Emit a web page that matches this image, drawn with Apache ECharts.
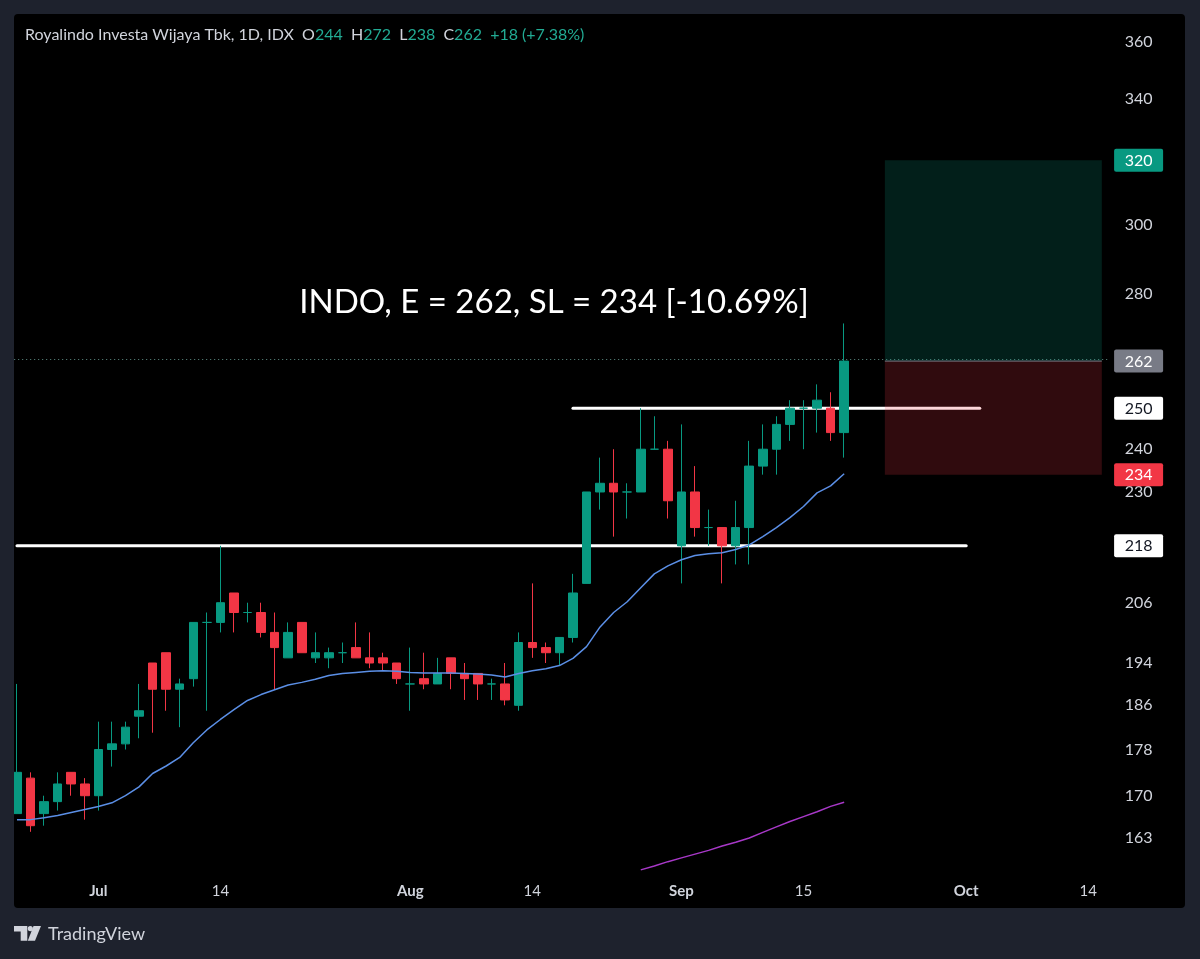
<!DOCTYPE html>
<html>
<head>
<meta charset="utf-8">
<style>
html,body{margin:0;padding:0;background:#1e222d;}
#c{width:1200px;height:959px;}
</style>
<script src="https://cdn.jsdelivr.net/npm/echarts@6/dist/echarts.min.js"></script>
</head>
<body>
<div id="c"></div>
<script>
// ---------------- data ----------------
const dates = ['2025-06-20','2025-06-23','2025-06-24','2025-06-25','2025-06-26','2025-06-30',
'2025-07-01','2025-07-02','2025-07-03','2025-07-04','2025-07-07','2025-07-08','2025-07-09','2025-07-10','2025-07-11','2025-07-14','2025-07-15','2025-07-16','2025-07-17','2025-07-18','2025-07-21','2025-07-22','2025-07-23','2025-07-24','2025-07-25','2025-07-28','2025-07-29','2025-07-30','2025-07-31',
'2025-08-01','2025-08-04','2025-08-05','2025-08-06','2025-08-07','2025-08-08','2025-08-11','2025-08-12','2025-08-13','2025-08-14','2025-08-15','2025-08-19','2025-08-20','2025-08-21','2025-08-22','2025-08-25','2025-08-26','2025-08-27','2025-08-28','2025-08-29',
'2025-09-01','2025-09-02','2025-09-03','2025-09-04','2025-09-08','2025-09-09','2025-09-10','2025-09-11','2025-09-12','2025-09-15','2025-09-16','2025-09-17','2025-09-18'];
const futureDates = ['2025-09-19','2025-09-22','2025-09-23','2025-09-24','2025-09-25','2025-09-26','2025-09-29','2025-09-30',
'2025-10-01','2025-10-02','2025-10-03','2025-10-06','2025-10-07','2025-10-08','2025-10-09','2025-10-10','2025-10-13','2025-10-14','2025-10-15'];

const opens  = [167,173,167,169,174,172,170,178,179,184,194,196,189,191,202,202,208,204,204,200,195,202,195,195,196,197,195,195,194,190,191,190,195,192,192,190,190,186,198,197,196,199,210,230,232,230,230,240,240,218,230,222,222,218,222,236,240,246,250,250,250,244];
const highs  = [190,174,170,174,174,173,183,183,183,190,194,196,191,202,204,218,208,206,206,204,202,202,200,197,198,202,200,196,194,197,196,195,195,194,192,191,194,200,210,198,199,212,230,238,240,232,250,248,242,246,236,226,222,228,242,246,248,252,252,256,254,272];
const lows   = [167,164,165,167.5,170,166,167.5,175,178,180,181,185,182,189.5,185,200,200,202,199,189,195,196,194,193,194,195,193,192.5,190,185,189,190,189,187,187,187,186,185,195,194,193.5,198,210,226,220,224,230,240,224,210,220,218,210,214,214,234,234,242,240,244,242,238];
const closes = [174,165,169,172,172,170,178,179,182,185,189,189,190,202,202,206,204,204,200,197,200,196,196,196,196,195,194,194,191,190,190,192,192,191,190,190,187,198,197,196,199,208,230,232,230,230,240,240,228,230,222,222,218,222,236,240,246,250,250,252,244,262];

const maBlue = [166.0,166.0,166.3,166.7,167.2,167.7,168.2,168.8,170.0,171.5,
173.8,175.1,176.6,179.2,181.5,183.4,185.2,186.9,188.0,188.9,
189.8,190.3,190.9,191.6,192.0,192.2,192.4,192.5,192.4,192.2,
192.1,192.1,192.1,192.0,191.9,191.7,191.3,192.0,192.5,192.9,
193.5,194.9,197.2,201.1,204.0,206.2,209.1,212.0,213.7,215.0,
215.9,216.3,216.5,217.2,218.2,220.0,222.0,224.2,226.7,229.8,
231.4,234.2];
const maPurpleStart = '2025-08-27';
const maPurple = [157.9,158.5,159.2,159.8,160.4,161.0,161.7,162.3,163.0,163.9,164.8,165.7,166.5,167.3,168.2,168.9];

const yTickValues = [163,170,178,186,194,206,218,230,240,250,262,280,300,320,340,360];
const xTickDates  = ['2025-07-01','2025-07-14','2025-08-01','2025-08-14','2025-09-01','2025-09-15','2025-10-01','2025-10-14'];
const xTickTexts  = ['Jul','14','Aug','14','Sep','15','Oct','14'];
const xTickIsMonth= [true,false,true,false,true,false,true,false];

const levelLines = [
  {price:218, from:'2025-06-20', to:'2025-10-01'},
  {price:250, from:'2025-08-20', to:'2025-10-02'}
];
const position = {from:'2025-09-23', to:'2025-10-15', target:320, entry:262, stop:234};
const lastPrice = 262;
const priceTags = [320,262,250,234,218];
const priceTagKeys = ['tp','last','lvl','sl','lvl'];

const titleName = 'Royalindo Investa Wijaya Tbk, 1D, IDX';
const ohlcLabels = ['O','H','L','C'];
const ohlcValues = ['244','272','238','262'];
const changeText = '+18 (+7.38%)';
const noteText = 'INDO, E = 262, SL = 234 [-10.69%]';
const yRange = [157.1, 370.1];

// ---------------- build ----------------
const LN = Math.log;
const UP = '#089981', DOWN = '#f23645';
const categories = dates.concat(futureDates);
const idxOf = d => categories.indexOf(d);

const candleData = dates.map((d, i) => {
  const item = {value: [LN(opens[i]), LN(closes[i]), LN(lows[i]), LN(highs[i])]};
  if (opens[i] === closes[i]) {
    item.itemStyle = {color: UP, color0: UP, borderColor: UP, borderColor0: UP};
  }
  return item;
});
const blueData = maBlue.map(v => LN(v));
const purpleStartIdx = idxOf(maPurpleStart);
const purpleData = categories.map((d, i) => {
  const k = i - purpleStartIdx;
  return (k >= 0 && k < maPurple.length) ? LN(maPurple[k]) : null;
});
const levelData = levelLines.map(l => [idxOf(l.from), idxOf(l.to), LN(l.price)]);
const boxData = [[idxOf(position.from), idxOf(position.to), LN(position.target), LN(position.entry), LN(position.stop)]];

const labelColor = '#d1d4dc';
const FONT = 'Lato, "Open Sans", sans-serif';

let titleRich = '{n|' + titleName + '}';
ohlcLabels.forEach((l, i) => { titleRich += '{s|  ' + l + '}{g|' + ohlcValues[i] + '}'; });
titleRich += '{g|  ' + changeText + '}';

const chart = echarts.init(document.getElementById('c'), null, {renderer: 'canvas'});
const option = {
  animation: false,
  backgroundColor: '#1e222d',
  grid: {left: 10.2, top: 14, width: 1098.4, height: 861, containLabel: false},
  xAxis: {
    type: 'category',
    data: categories,
    boundaryGap: true,
    axisLine: {show: false},
    axisTick: {show: false},
    splitLine: {show: false},
    axisLabel: {
      interval: (i, v) => xTickDates.indexOf(v) >= 0,
      formatter: v => {
        const k = xTickDates.indexOf(v);
        if (k < 0) return '';
        return xTickIsMonth[k] ? '{m|' + xTickTexts[k] + '}' : '{d|' + xTickTexts[k] + '}';
      },
      margin: 9,
      hideOverlap: false,
      rich: {
        m: {color: labelColor, fontSize: 15, fontWeight: 'bold', fontFamily: FONT},
        d: {color: labelColor, fontSize: 15, fontFamily: FONT}
      }
    }
  },
  yAxis: [{
    type: 'value',
    position: 'right',
    min: LN(yRange[0]), max: LN(yRange[1]),
    axisLine: {show: false}, axisTick: {show: false}, splitLine: {show: false},
    axisLabel: {
      customValues: yTickValues.map(LN),
      formatter: v => String(Math.round(Math.exp(v))),
      color: labelColor, fontSize: 16, fontFamily: FONT,
      align: 'center', margin: 30
    }
  }, {
    type: 'value',
    position: 'right',
    min: LN(yRange[0]), max: LN(yRange[1]),
    axisLine: {show: false}, axisTick: {show: false}, splitLine: {show: false},
    axisLabel: {
      customValues: priceTags.map(LN),
      formatter: v => {
        const p = Math.round(Math.exp(v));
        const k = priceTags.indexOf(p);
        return '{' + priceTagKeys[k] + '|' + p + '}';
      },
      align: 'center', margin: 30,
      rich: {
        tp:   {backgroundColor: UP, color: '#ffffff', fontSize: 16, fontFamily: FONT, width: 37, align: 'center', padding: [4,6,3,6], lineHeight: 18, borderRadius: 2},
        last: {backgroundColor: '#787b86', color: '#ffffff', fontSize: 16, fontFamily: FONT, width: 37, align: 'center', padding: [4,6,3,6], lineHeight: 18, borderRadius: 2},
        lvl:  {backgroundColor: '#ffffff', color: '#131722', fontSize: 16, fontFamily: FONT, width: 37, align: 'center', padding: [4,6,3,6], lineHeight: 18, borderRadius: 2},
        sl:   {backgroundColor: DOWN, color: '#ffffff', fontSize: 16, fontFamily: FONT, width: 37, align: 'center', padding: [4,6,3,6], lineHeight: 18, borderRadius: 2}
      }
    }
  }],
  series: [
    {
      type: 'custom',
      name: 'levels',
      z: 2,
      encode: {x: [0, 1], y: 2},
      data: levelData,
      renderItem: (params, api) => {
        const p1 = api.coord([api.value(0), api.value(2)]);
        const p2 = api.coord([api.value(1), api.value(2)]);
        return {type: 'line', shape: {x1: p1[0], y1: p1[1], x2: p2[0], y2: p2[1]},
          style: {stroke: '#ffffff', lineWidth: 3, lineCap: 'round'}};
      }
    },
    {
      type: 'candlestick',
      name: 'INDO',
      z: 3,
      data: candleData,
      barWidth: 9,
      itemStyle: {color: UP, color0: DOWN, borderColor: UP, borderColor0: DOWN, borderWidth: 1},
      markLine: {
        silent: true,
        symbol: ['none', 'none'],
        label: {show: false},
        lineStyle: {type: [1, 3], color: '#5f8f86', width: 1},
        data: [{yAxis: LN(lastPrice)}]
      }
    },
    {
      type: 'line', name: 'MA', z: 4, data: blueData, showSymbol: false, symbol: 'none',
      lineStyle: {color: '#5b8fe6', width: 1.5}, smooth: false
    },
    {
      type: 'line', name: 'MA2', z: 4, data: purpleData, showSymbol: false, symbol: 'none',
      lineStyle: {color: '#a838c8', width: 1.5}
    },
    {
      type: 'custom',
      name: 'position',
      z: 5,
      encode: {x: [0, 1], y: [2, 3, 4]},
      data: boxData,
      renderItem: (params, api) => {
        const x1 = api.coord([api.value(0), api.value(3)])[0];
        const x2 = api.coord([api.value(1), api.value(3)])[0];
        const yT = api.coord([api.value(0), api.value(2)])[1];
        const yE = api.coord([api.value(0), api.value(3)])[1];
        const yS = api.coord([api.value(0), api.value(4)])[1];
        return {type: 'group', children: [
          {type: 'rect', shape: {x: x1, y: yT, width: x2 - x1, height: yE - yT}, style: {fill: 'rgba(8,153,129,0.2)'}},
          {type: 'rect', shape: {x: x1, y: yE, width: x2 - x1, height: yS - yE}, style: {fill: 'rgba(242,54,69,0.2)'}},
          {type: 'line', shape: {x1: x1, y1: yE, x2: x2, y2: yE}, style: {stroke: '#787b86', lineWidth: 1}}
        ]};
      }
    }
  ],
  graphic: [
    {type: 'rect', z: -10, shape: {x: 14, y: 14, width: 1171, height: 894, r: 4}, style: {fill: '#000000'}},
    {type: 'rect', z: 100, shape: {x: 0, y: 0, width: 14, height: 959}, style: {fill: '#1e222d'}},
    {type: 'text', z: 100, x: 25, y: 35, style: {
      text: titleRich, verticalAlign: 'middle',
      rich: {
        n: {fill: labelColor, fontSize: 16, fontFamily: FONT},
        s: {fill: labelColor, fontSize: 16, fontFamily: FONT},
        g: {fill: '#22ab94', fontSize: 16, fontFamily: FONT}
      }
    }},
    {type: 'text', z: 100, x: 554, y: 302, style: {
      text: noteText, fill: '#ffffff', fontSize: 33, fontFamily: FONT, align: 'center', verticalAlign: 'middle'
    }},
    // TradingView logo
    {type: 'polygon', z: 100, shape: {points: [[14,926],[27.3,926],[27.3,940.7],[20.7,940.7],[20.7,931.5],[14,931.5]]}, style: {fill: labelColor}},
    {type: 'circle', z: 100, shape: {cx: 30.3, cy: 928.6, r: 2.6}, style: {fill: labelColor}},
    {type: 'polygon', z: 100, shape: {points: [[33.5,926],[41,926],[35,940.7],[27.8,940.7]]}, style: {fill: labelColor}},
    {type: 'text', z: 100, x: 48, y: 934, style: {
      text: 'TradingView', fill: labelColor, fontSize: 18, fontFamily: FONT, verticalAlign: 'middle'
    }}
  ]
};
chart.setOption(option);
</script>
</body>
</html>
